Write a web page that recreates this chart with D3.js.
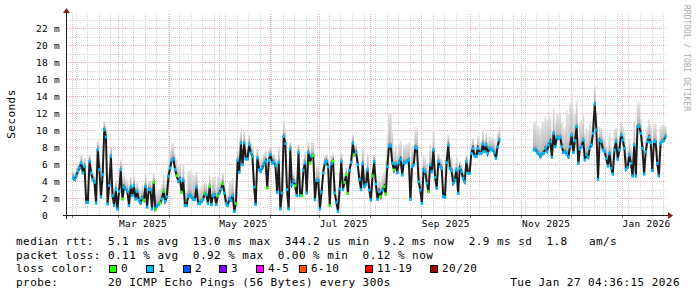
<!DOCTYPE html>
<html lang="en">
<head>
<meta charset="utf-8">
<script src="https://cdn.jsdelivr.net/npm/d3@7/dist/d3.min.js"></script>
<style>
    body { margin: 0; background: #fff; }
    svg text { font-family: "DejaVu Sans Mono", monospace; white-space: pre; fill: #000; }
</style>
</head>
<body>
<script>
    // daily medians (ms), first run starts 2025-02-01, second run 2025-11-08
    var runStarts = ['2025-02-01T12:00:00Z', '2025-11-08T12:00:00Z'];
    var medianA = [
        4.35, 4.16, 4.63, 5.14, 5.53, 6.12, 4.94, 5.73, 1.49, 1.49,
        6.31, 4.94, 4.16, 3.84, 1.41, 7.69, 5.33, 2.12, 4.75, 10.04,
        9.18, 1.29, 3.45, 6.90, 2.27, 1.10, 2.98, 0.71, 2.78, 5.33,
        1.88, 3.29, 3.00, 2.78, 1.10, 3.29, 2.27, 3.45, 1.88, 2.78,
        1.73, 1.41, 2.00, 1.73, 3.37, 0.94, 2.98, 2.98, 0.71, 3.84,
        0.71, 1.02, 1.22, 1.41, 1.88, 2.78, 1.61, 2.12, 4.55, 5.53,
        6.43, 6.59, 5.33, 4.63, 3.96, 4.24, 2.67, 4.08, 1.10, 1.10,
        2.20, 2.39, 2.12, 1.80, 1.80, 3.29, 1.33, 1.33, 1.61, 1.80,
        2.51, 2.39, 1.33, 3.37, 1.22, 2.27, 2.39, 1.22, 2.27, 2.59,
        3.06, 3.69, 2.59, 1.33, 1.10, 1.88, 1.73, 2.27, 0.43, 1.33,
        6.43, 5.02, 8.47, 5.92, 8.47, 6.59, 6.59, 8.27, 7.29, 6.90,
        3.29, 1.22, 6.71, 5.33, 5.14, 5.53, 5.92, 6.31, 3.18, 6.43,
        7.10, 6.12, 6.20, 5.80, 2.67, 6.20, 0.71, 2.59, 9.25, 8.39,
        2.98, 0.71, 7.76, 3.57, 3.96, 3.45, 2.27, 7.37, 2.27, 2.27,
        5.25, 6.12, 2.59, 7.37, 6.12, 6.90, 6.98, 1.80, 4.08, 4.08,
        0.71, 2.67, 4.94, 6.12, 6.31, 5.65, 1.10, 6.04, 6.31, 2.59,
        1.49, 0.43, 3.06, 6.31, 2.98, 3.84, 4.75, 2.51, 5.25, 6.20,
        8.47, 7.10, 7.37, 5.92, 4.16, 2.98, 6.04, 3.37, 3.57, 5.29,
        2.94, 1.76, 4.59, 6.27, 3.65, 1.84, 2.75, 2.16, 2.94, 3.33,
        2.47, 5.69, 8.12, 8.12, 6.08, 5.29, 6.00, 4.98, 6.16, 6.55,
        4.71, 6.16, 6.16, 6.27, 6.47, 1.84, 5.69, 5.88, 7.96, 7.84,
        3.92, 2.94, 1.37, 5.29, 5.10, 3.73, 2.75, 5.88, 5.10, 7.65,
        4.43, 3.14, 6.27, 5.69, 5.49, 2.16, 2.08, 6.16, 8.24, 5.49,
        5.22, 3.73, 4.12, 5.29, 2.55, 5.49, 5.10, 4.31, 3.92, 6.27,
        4.90, 4.90, 7.25, 7.84, 6.94, 6.86, 7.84, 7.25, 7.25, 8.35,
        7.45, 8.24, 7.25, 7.84, 7.65, 7.65, 7.33, 6.67, 8.04, 8.82
    ];
    var medianB = [
        7.65, 7.73, 7.33, 7.18, 6.86, 7.18, 7.25, 7.84, 7.45, 8.24,
        8.63, 6.78, 9.61, 8.04, 9.14, 9.02, 9.14, 8.04, 7.33, 7.45,
        7.18, 6.86, 8.04, 9.41, 7.33, 8.75, 10.39, 6.08, 7.73, 8.04,
        8.82, 6.47, 7.06, 6.78, 7.84, 8.24, 9.61, 13.06, 10.00, 4.20,
        8.82, 8.63, 7.65, 7.45, 6.67, 5.76, 7.25, 5.49, 4.82, 7.65,
        8.63, 6.55, 7.65, 9.41, 8.82, 7.84, 5.37, 5.61, 7.06, 6.08,
        4.59, 8.24, 4.59, 10.39, 10.47, 9.61, 7.84, 4.82, 7.45, 8.63,
        9.14, 8.51, 5.22, 8.63, 8.63, 6.08, 4.59, 8.43, 8.63, 8.75,
        9.22
    ];
    // days (index into medianA) with no packet loss; all other days lost 1 ping
    var zeroLossA = [30, 43, 49, 50, 53, 55, 63, 66, 80, 83, 88, 91, 99, 118, 135, 139,
        144, 146, 156, 158, 165, 166, 167, 171, 182, 187, 189, 190, 195, 216];
    // how far the smoke (slowest pings) reaches above the median, ms, one value per 5 days
    var smokeSpreadA = [
        0.8, 1.0, 0.8, 1.0, 1.2, 1.2, 1.3, 1.2, 1.5, 1.0,
        1.7, 2.0, 1.9, 1.8, 2.9, 1.8, 1.3, 2.2, 1.2, 2.1,
        1.3, 1.2, 1.4, 1.3, 1.0, 1.8, 0.8, 0.9, 1.3, 1.7,
        0.8, 1.0, 1.0, 0.8, 1.0, 2.0, 0.8, 1.8, 3.9, 2.2,
        2.1, 2.4, 1.7, 2.4, 1.0, 1.2, 1.6, 0.8, 1.2, 1.5,
        1.4, 1.6
    ];
    var smokeSpreadB = [3.3, 3.8, 2.9, 2.9, 5.1, 3.1, 3.2, 2.1, 1.6, 2.4,
        1.6, 2.0, 2.8, 1.8, 2.1, 2.0, 1.2];

    var yTicks = [0, 2, 4, 6, 8, 10, 12, 14, 16, 18, 20, 22];
    var yTickLabels = ['0  ', '2 m', '4 m', '6 m', '8 m', '10 m', '12 m', '14 m', '16 m', '18 m', '20 m', '22 m'];

    var lossLabels = ['0', '1', '2', '3', '4-5', '6-10', '11-19', '20/20'];
    var lossColors = ['#26ff00', '#00b8ff', '#0059ff', '#7e00ff', '#ff00ff', '#ff5500', '#ff0000', '#a10000'];

    var legendLines = [
        'median rtt:  5.1 ms avg  13.0 ms max  344.2 us min  9.2 ms now  2.9 ms sd  1.8   am/s',
        'packet loss: 0.11 % avg  0.92 % max  0.00 % min  0.12 % now',
        'loss color:',
        'probe:       20 ICMP Echo Pings (56 Bytes) every 300s'
    ];
    var stamp = 'Tue Jan 27 04:36:15 2026';

    var X0 = 67, X1 = 667, Y0 = 215, YT = 13;

    var svg = d3.select('body').append('svg')
            .attr('width', 697)
            .attr('height', 297);

    var x = d3.scaleUtc()
            .domain([new Date('2025-01-28T20:00:00Z'), new Date('2026-01-28T10:00:00Z')])
            .range([X0, X1]);
    var y = d3.scaleLinear()
            .domain([0, (Y0 - YT) / 8.5])
            .range([Y0, YT]);

    var defs = svg.append('defs');
    function grad(id, c0, c1) {
        var g = defs.append('linearGradient').attr('id', id)
                .attr('x1', 0).attr('y1', 1).attr('x2', 0).attr('y2', 0);
        g.append('stop').attr('offset', 0).attr('stop-color', c0);
        g.append('stop').attr('offset', 1).attr('stop-color', c1);
    }
    grad('smokeDark', '#707070', '#a8a8a8');
    grad('smokeLight', '#b8b8b8', '#e4e4e4');

    // grid
    var grid = svg.append('g');
    function px(v) { return Math.round(v) + 0.5; }

    var hLines = d3.range(1, 24);
    grid.selectAll('.hgrid').data(hLines).enter().append('line')
            .attr('x1', X0).attr('x2', X1)
            .attr('y1', function (d) { return px(y(d)); })
            .attr('y2', function (d) { return px(y(d)); })
            .attr('stroke', function (d) { return d % 2 ? '#d6d6d6' : '#efb0b0'; })
            .attr('stroke-dasharray', '1,1');

    var weeks = d3.utcMonday.range(x.domain()[0], x.domain()[1]);
    grid.selectAll('.vmin').data(weeks).enter().append('line')
            .attr('x1', function (d) { return px(x(d)); })
            .attr('x2', function (d) { return px(x(d)); })
            .attr('y1', Y0).attr('y2', YT)
            .attr('stroke', '#d6d6d6')
            .attr('stroke-dasharray', '1,1');

    var months = d3.utcMonth.range(x.domain()[0], x.domain()[1]);
    grid.selectAll('.vmaj').data(months).enter().append('line')
            .attr('x1', function (d) { return px(x(d)); })
            .attr('x2', function (d) { return px(x(d)); })
            .attr('y1', Y0).attr('y2', YT)
            .attr('stroke', '#efb0b0')
            .attr('stroke-dasharray', '1,1');
    grid.selectAll('.vtick').data(months).enter().append('line')
            .attr('x1', function (d) { return px(x(d)); })
            .attr('x2', function (d) { return px(x(d)); })
            .attr('y1', Y0).attr('y2', Y0 + 3)
            .attr('stroke', '#777');

    // series
    function build(start, values, spreads, zero) {
        var t0 = new Date(start);
        return values.map(function (v, i) {
            return {
                t: d3.utcDay.offset(t0, i),
                v: v,
                top: v + spreads[Math.floor(i / 5)],
                loss: zero.indexOf(i) >= 0 ? 0 : 1
            };
        });
    }
    var runs = [
        build(runStarts[0], medianA, smokeSpreadA, zeroLossA),
        build(runStarts[1], medianB, smokeSpreadB, [])
    ];
    var dayW = x(new Date('2025-03-02T00:00:00Z')) - x(new Date('2025-03-01T00:00:00Z'));

    var line = d3.line()
            .x(function (d) { return x(d.t); })
            .y(function (d) { return y(d.v); });

    runs.forEach(function (run) {
        var g = svg.append('g');
        g.selectAll('.sl').data(run).enter().append('rect')
                .attr('x', function (d) { return x(d.t) - dayW / 2; })
                .attr('width', dayW + 0.2)
                .attr('y', function (d) { return y(d.top); })
                .attr('height', function (d) { return y(d.v + 0.45) - y(d.top); })
                .attr('fill', 'url(#smokeLight)');
        g.selectAll('.sd').data(run).enter().append('rect')
                .attr('x', function (d) { return x(d.t) - dayW / 2; })
                .attr('width', dayW + 0.2)
                .attr('y', function (d) { return y(d.v + 0.45); })
                .attr('height', function (d) { return y(d.v - 0.15) - y(d.v + 0.45); })
                .attr('fill', 'url(#smokeDark)');
        g.append('path').datum(run)
                .attr('d', line)
                .attr('fill', 'none')
                .attr('stroke', '#1c1c1c')
                .attr('stroke-width', 2);
        g.selectAll('.mk').data(run).enter().append('rect')
                .attr('x', function (d) { return x(d.t) - 1.25; })
                .attr('y', function (d) { return y(d.v) - 1.5; })
                .attr('width', 2.5).attr('height', 3)
                .attr('fill', function (d) { return lossColors[d.loss]; });
    });

    // axes
    svg.append('line')
            .attr('x1', X0 - 4).attr('x2', X1 + 4)
            .attr('y1', Y0 + 0.5).attr('y2', Y0 + 0.5)
            .attr('stroke', '#1f1f1f');
    svg.append('line')
            .attr('x1', X0 - 0.5).attr('x2', X0 - 0.5)
            .attr('y1', Y0 + 4).attr('y2', YT - 3)
            .attr('stroke', '#1f1f1f');
    svg.append('path')
            .attr('d', 'M' + (X1 + 1) + ',' + (Y0 - 3) + 'L' + (X1 + 1) + ',' + (Y0 + 4) + 'L' + (X1 + 6) + ',' + (Y0 + 0.5) + 'Z')
            .attr('fill', '#801f1f');
    svg.append('path')
            .attr('d', 'M' + (X0 - 4) + ',' + (YT) + 'L' + (X0 + 3) + ',' + (YT) + 'L' + (X0 - 0.5) + ',' + (YT - 5) + 'Z')
            .attr('fill', '#801f1f');

    svg.selectAll('.ylab').data(yTicks).enter().append('text')
            .attr('x', 60)
            .attr('y', function (d) { return y(d) + 3.5; })
            .attr('text-anchor', 'end')
            .style('font-size', '9.5px')
            .style('letter-spacing', '0.3px')
            .text(function (d, i) { return yTickLabels[i]; });

    var fmt = d3.utcFormat('%b %Y');
    var labelMonths = d3.utcMonth.every(2).range(d3.utcMonth.floor(x.domain()[0]), x.domain()[1])
            .filter(function (d) {
                var c = d3.utcDay.offset(d, 15);
                return c > x.domain()[0] && c < x.domain()[1];
            });
    svg.selectAll('.xlab').data(labelMonths).enter().append('text')
            .attr('x', function (d) { return x(d3.utcDay.offset(d, 15)); })
            .attr('y', 227)
            .attr('text-anchor', 'middle')
            .style('font-size', '9.5px')
            .style('letter-spacing', '0.3px')
            .text(fmt);

    svg.append('text')
            .attr('transform', 'translate(15,114) rotate(-90)')
            .attr('text-anchor', 'middle')
            .style('font-size', '11px')
            .style('letter-spacing', '0.45px')
            .text('Seconds');

    svg.append('text')
            .attr('transform', 'translate(684,5) rotate(90)')
            .style('font-size', '8px')
            .style('fill', '#acacac')
            .text('RRDTOOL / TOBI OETIKER');

    // legend
    var lineY = [245, 258.5, 272, 285.5];
    svg.selectAll('.leg').data(legendLines).enter().append('text')
            .attr('x', 16)
            .attr('y', function (d, i) { return lineY[i]; })
            .style('font-size', '11px')
            .style('letter-spacing', '0.45px')
            .text(function (d) { return d; });
    svg.append('text')
            .attr('x', 680).attr('y', lineY[3])
            .attr('text-anchor', 'end')
            .style('font-size', '11px')
            .style('letter-spacing', '0.45px')
            .text(stamp);

    var boxX = [109, 146, 183, 219, 256, 299, 365, 430];
    var lg = svg.selectAll('.lc').data(lossLabels).enter().append('g')
            .attr('transform', function (d, i) { return 'translate(' + boxX[i] + ',' + (lineY[2] - 7) + ')'; });
    lg.append('rect')
            .attr('x', 0.5).attr('y', 0.5)
            .attr('width', 7).attr('height', 7)
            .attr('fill', function (d, i) { return lossColors[i]; })
            .attr('stroke', '#000');
    lg.append('text')
            .attr('x', 12).attr('y', 7)
            .style('font-size', '11px')
            .style('letter-spacing', '0.45px')
            .text(function (d) { return d; });
</script>
</body>
</html>
